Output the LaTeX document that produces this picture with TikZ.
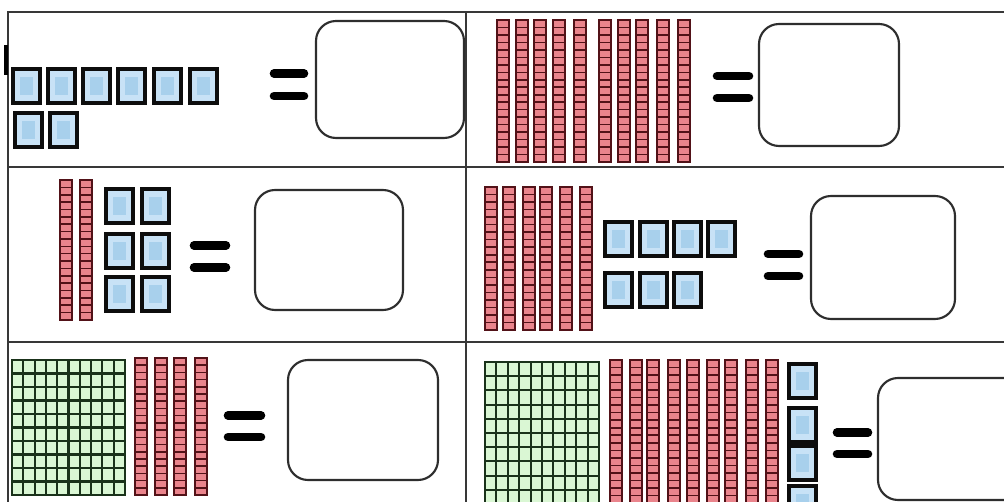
\documentclass[tikz,border=0pt]{standalone}
\usepackage{tikz}

\definecolor{unitblue}{RGB}{200,226,246}
\definecolor{unitmid}{RGB}{168,208,236}
\definecolor{rodpink}{RGB}{234,132,140}
\definecolor{roddark}{RGB}{82,18,24}
\definecolor{flatgreen}{RGB}{218,247,212}
\definecolor{flatdark}{RGB}{26,50,26}

\tikzset{
  tabline/.style={draw=black!78, line width=1.9pt},
  ansbox/.style={draw=black!82, line width=1.6pt, rounded corners=15pt},
  eqbar/.style={draw=black, line width=6.4pt, line cap=round},
  unitbox/.style={draw=black!95, line width=2.9pt, fill=unitblue},
  unitcore/.style={fill=unitmid},
  rodbox/.style={draw=roddark, line width=1.6pt, fill=rodpink},
  rodline/.style={draw=roddark, line width=1.2pt},
  flatbox/.style={draw=flatdark, line width=1.7pt, fill=flatgreen},
  flatline/.style={draw=flatdark, line width=1.6pt}
}

% one blue unit, top left corner at (#1,#2)
\newcommand{\ucube}[2]{%
  \draw[unitbox] (#1,#2) rectangle ++(27,34);
  \fill[unitcore] (#1+7,#2+8) rectangle ++(13,18);}
% one red ten rod: x, top, bottom
\newcommand{\trod}[3]{%
  \draw[rodbox] (#1,#2) rectangle (#1+12,#3);
  \foreach \k in {1,...,18}
    \draw[rodline] (#1,{#2+\k*(#3-#2)/19}) -- ++(12,0);}
% one green hundred flat: x1, y1, x2, y2
\newcommand{\hflat}[4]{%
  \draw[flatbox] (#1,#2) rectangle (#3,#4);
  \foreach \k in {1,...,9} {
    \draw[flatline] ({#1+\k*(#3-#1)/10},#2) -- ({#1+\k*(#3-#1)/10},#4);
    \draw[flatline] (#1,{#2+\k*(#4-#2)/10}) -- (#3,{#2+\k*(#4-#2)/10});
  }}
% equals sign: x1, x2, upper bar, lower bar
\newcommand{\eqsign}[4]{%
  \draw[eqbar] (#1+4,#3) -- (#2-4,#3);
  \draw[eqbar] (#1+4,#4) -- (#2-4,#4);}

\begin{document}
\begin{tikzpicture}[x=0.75pt,y=0.75pt,yscale=-1,xscale=1]
\useasboundingbox (0,0) rectangle (1004,502);
\clip (0,0) rectangle (1004,502);

%Table lines
\draw[tabline] (8,502) -- (8,12) -- (1004,12);
\draw[tabline] (466,12) -- (466,502);
\draw[tabline] (8,167) -- (1004,167);
\draw[tabline] (8,342) -- (1004,342);
\draw[line width=3pt] (6,45) -- (6,75);

%Row 1, left: 8 units
\foreach \x in {13,48,83,118,154,190} \ucube{\x}{69};
\foreach \x in {15,50} \ucube{\x}{113};
\eqsign{270}{308}{73.5}{96}
\draw[ansbox] (316,21) rectangle (464,138);

%Row 1, right: 10 rods
\foreach \x in {497,516,534,553,574,599,618,636,657,678} \trod{\x}{20}{162};
\eqsign{713}{753}{76}{98}
\draw[ansbox] (759,24) rectangle (899,146);

%Row 2, left: 2 rods, 6 units
\foreach \x in {60,80} \trod{\x}{180}{320};
\foreach \x in {106,142} \foreach \y in {189,234,277} \ucube{\x}{\y};
\eqsign{190}{230}{245.5}{267.5}
\draw[ansbox] (255,190) rectangle (403,310);

%Row 2, right: 6 rods, 7 units
\foreach \x in {485,503,523,540,560,580} \trod{\x}{187}{330};
\foreach \x in {605,640,674,708} \ucube{\x}{222};
\foreach \x in {605,640,674} \ucube{\x}{273};
\eqsign{764}{803}{254}{276}
\draw[ansbox] (811,196) rectangle (955,319);

%Row 3, left: 1 flat, 4 rods
\hflat{12}{360}{125}{495}
\foreach \x in {135,155,174,195} \trod{\x}{358}{495};
\eqsign{224}{265}{415.5}{437}
\draw[ansbox] (288,360) rectangle (438,480);

%Row 3, right: 1 flat, 9 rods, 4 units
\hflat{485}{362}{599}{504}
\foreach \x in {610,630,647,668,687,707,725,746,766} \trod{\x}{360}{503};
\foreach \y in {364,408,446,486} \ucube{789}{\y};
\eqsign{833}{872}{432.5}{454}
\draw[ansbox] (878,378) rectangle (1025,500);

\end{tikzpicture}
\end{document}
